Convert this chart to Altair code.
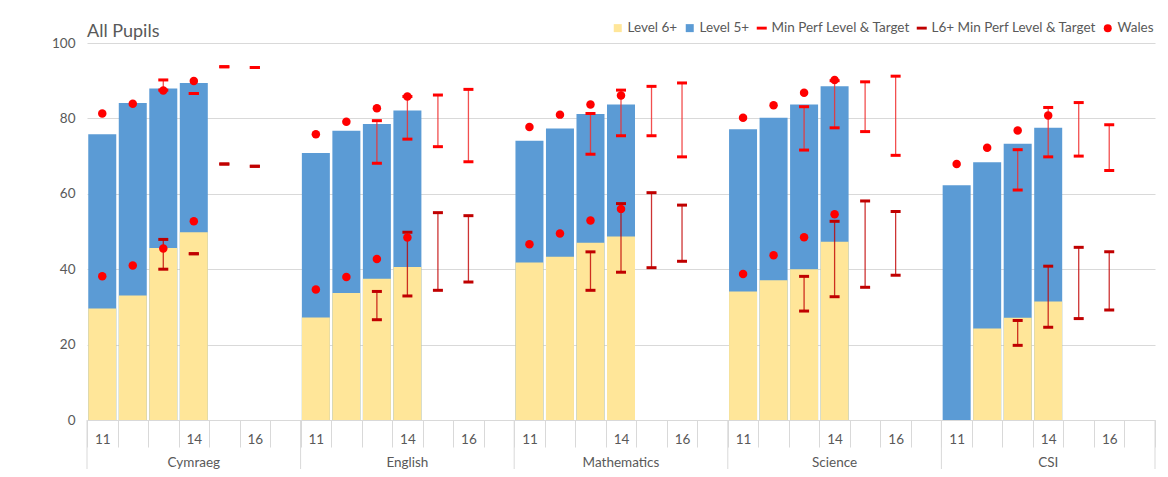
import altair as alt
import pandas as pd

subjects = ["Cymraeg", "English", "Mathematics", "Science", "CSI"]
years = ["11", "12", "13", "14", "15", "16", "17"]
bar_years = ["11", "12", "13", "14"]
target_years = ["13", "14", "15", "16"]
label_years = ["11", "14", "16"]

level5 = {
    "Cymraeg": [75.8, 84.1, 87.9, 89.4],
    "English": [70.8, 76.7, 78.5, 82.1],
    "Mathematics": [74.1, 77.3, 81.2, 83.7],
    "Science": [77.1, 80.2, 83.7, 88.5],
    "CSI": [62.3, 68.4, 73.3, 77.5],
}
level6 = {
    "Cymraeg": [29.6, 33.0, 45.6, 49.8],
    "English": [27.2, 33.7, 37.5, 40.6],
    "Mathematics": [41.8, 43.3, 47.0, 48.7],
    "Science": [34.1, 37.1, 40.0, 47.3],
    "CSI": [None, 24.3, 27.1, 31.4],
}
wales5 = {
    "Cymraeg": [81.3, 83.9, 87.4, 89.9],
    "English": [75.8, 79.1, 82.7, 85.8],
    "Mathematics": [77.7, 81.0, 83.7, 86.1],
    "Science": [80.2, 83.5, 86.8, 90.2],
    "CSI": [67.9, 72.2, 76.8, 80.8],
}
wales6 = {
    "Cymraeg": [38.1, 41.0, 45.5, 52.7],
    "English": [34.6, 37.9, 42.7, 48.4],
    "Mathematics": [46.6, 49.5, 52.9, 56.0],
    "Science": [38.7, 43.7, 48.5, 54.6],
    "CSI": [None, None, None, None],
}
mp_low = {
    "Cymraeg": [87.5, 86.6, 93.7, 93.5],
    "English": [68.1, 74.5, 72.5, 68.5],
    "Mathematics": [70.5, 75.4, 75.4, 69.8],
    "Science": [71.6, 77.5, 76.5, 70.2],
    "CSI": [61.0, 69.8, 70.0, 66.2],
}
mp_high = {
    "Cymraeg": [90.2, 86.6, 93.7, 93.5],
    "English": [79.4, 85.8, 86.2, 87.7],
    "Mathematics": [81.3, 87.5, 88.5, 89.4],
    "Science": [83.1, 90.0, 89.7, 91.2],
    "CSI": [71.7, 82.9, 84.2, 78.3],
}
l6_low = {
    "Cymraeg": [40.0, 44.1, 67.9, 67.3],
    "English": [26.6, 32.9, 34.4, 36.6],
    "Mathematics": [34.4, 39.2, 40.4, 42.1],
    "Science": [28.9, 32.7, 35.2, 38.4],
    "CSI": [19.8, 24.6, 26.9, 29.2],
}
l6_high = {
    "Cymraeg": [47.9, 44.1, 67.9, 67.3],
    "English": [34.1, 49.8, 55.0, 54.2],
    "Mathematics": [44.6, 57.4, 60.3, 57.0],
    "Science": [38.1, 52.7, 58.1, 55.3],
    "CSI": [26.4, 40.8, 45.8, 44.6],
}

series_names = ["Level 6+", "Level 5+", "Min Perf Level & Target",
                "L6+ Min Perf Level & Target", "Wales"]
series_colors = ["#FFE699", "#5B9BD5", "#FF0000", "#C00000", "#FF0000"]
dash = "M-1.25,-0.36L1.25,-0.36L1.25,0.36L-1.25,0.36Z"
series_shapes = ["square", "square", dash, dash, "circle"]

def k(s, y):
    return f"{s} {y}"

keys = [k(s, y) for s in subjects for y in years]

bar_rows, dot_rows, err_rows, cap_rows = [], [], [], []
for s in subjects:
    for i, y in enumerate(bar_years):
        bar_rows.append({"key": k(s, y), "series": "Level 5+", "value": level5[s][i]})
        if level6[s][i] is not None:
            bar_rows.append({"key": k(s, y), "series": "Level 6+", "value": level6[s][i]})
        dot_rows.append({"key": k(s, y), "series": "Wales", "value": wales5[s][i]})
        if wales6[s][i] is not None:
            dot_rows.append({"key": k(s, y), "series": "Wales", "value": wales6[s][i]})
    for i, y in enumerate(target_years):
        err_rows.append({"key": k(s, y), "kind": "mp", "low": mp_low[s][i], "high": mp_high[s][i]})
        err_rows.append({"key": k(s, y), "kind": "l6", "low": l6_low[s][i], "high": l6_high[s][i]})
        for v in (mp_low[s][i], mp_high[s][i]):
            cap_rows.append({"key": k(s, y), "kind": "mp", "value": v})
        for v in (l6_low[s][i], l6_high[s][i]):
            cap_rows.append({"key": k(s, y), "kind": "l6", "value": v})

bars = pd.DataFrame(bar_rows)
dots = pd.DataFrame(dot_rows)
errs = pd.DataFrame(err_rows)
caps = pd.DataFrame(cap_rows)
groups = pd.DataFrame({"subject": subjects,
                       "key": [k(s, years[0]) for s in subjects],
                       "mid": [k(s, "14") for s in subjects]})
last_group = pd.DataFrame({"key": [k(subjects[-1], years[-1])]})

W, H = 1068, 377
GREY = "#595959"
GRID = "#D9D9D9"

xscale = alt.Scale(domain=keys, paddingInner=0, paddingOuter=0)
xaxis = alt.Axis(
    title=None, labelAngle=0, domain=False, grid=False,
    tickBand="extent", tickSize=27, tickColor=GRID, tickWidth=1,
    labelPadding=-15, labelColor=GREY, labelFontSize=13.5,
    labelExpr="isString(datum.value) && indexof(" + str(label_years)
              + ", slice(datum.value, -2)) >= 0 ? slice(datum.value, -2) : ''",
)
yscale = alt.Scale(domain=[0, 100], nice=False)
yaxis = alt.Axis(values=[0, 20, 40, 60, 80, 100], title=None, domain=False, ticks=False,
                 labelPadding=12, labelColor=GREY, labelFontSize=13.5,
                 gridColor=GRID, gridWidth=1)

def X(field="key:N", **kw):
    return alt.X(field, scale=xscale, axis=xaxis, **kw)

color_scale = alt.Scale(domain=series_names, range=series_colors)
shape_scale = alt.Scale(domain=series_names, range=series_shapes)
legend = alt.Legend(
    title=None, orient="none", legendX=524, legendY=-22, direction="horizontal",
    columns=5, symbolSize=64, labelFontSize=13.5, labelColor=GREY,
    columnPadding=5, labelOffset=3, labelLimit=400,
)
color_enc = alt.Color("series:N", scale=color_scale, legend=legend)

bar5 = alt.Chart(bars).transform_filter("datum.series == 'Level 5+'").mark_bar(size=28).encode(
    x=X(), y=alt.Y("value:Q", scale=yscale, axis=yaxis, stack=None), color=color_enc)
bar6 = alt.Chart(bars).transform_filter("datum.series == 'Level 6+'").mark_bar(size=28).encode(
    x=X(), y=alt.Y("value:Q", scale=yscale, axis=yaxis, stack=None), color=color_enc)

err_mp = alt.Chart(errs).transform_filter("datum.kind == 'mp'").mark_rule(
    color="#F03030", strokeWidth=1.3, opacity=0.85).encode(
    x=X(), y=alt.Y("low:Q", scale=yscale, axis=yaxis), y2="high:Q")
err_l6 = alt.Chart(errs).transform_filter("datum.kind == 'l6'").mark_rule(
    color="#C00000", strokeWidth=1.3, opacity=0.8).encode(
    x=X(), y=alt.Y("low:Q", scale=yscale, axis=yaxis), y2="high:Q")

cap_mp = alt.Chart(caps).transform_filter("datum.kind == 'mp'").mark_tick(
    color="#FF0000", thickness=3, size=10, orient="horizontal", opacity=1).encode(
    x=X(), y=alt.Y("value:Q", scale=yscale, axis=yaxis))
cap_l6 = alt.Chart(caps).transform_filter("datum.kind == 'l6'").mark_tick(
    color="#C00000", thickness=3, size=10, orient="horizontal", opacity=1).encode(
    x=X(), y=alt.Y("value:Q", scale=yscale, axis=yaxis))

dot_layer = alt.Chart(dots).mark_point(filled=True, size=72, opacity=1).encode(
    x=X(),
    y=alt.Y("value:Q", scale=yscale, axis=yaxis),
    color=color_enc,
    shape=alt.Shape("series:N", scale=shape_scale, legend=legend),
)

sep_layer = alt.Chart(groups).mark_rule(color=GRID, strokeWidth=1).encode(
    x=X(bandPosition=0), y=alt.value(H), y2=alt.value(H + 60))
sep_end = alt.Chart(last_group).mark_rule(color=GRID, strokeWidth=1).encode(
    x=X(bandPosition=1), y=alt.value(H), y2=alt.value(H + 60))
group_text = alt.Chart(groups).mark_text(fontSize=13.5, color=GREY, baseline="middle").encode(
    x=X("mid:N"), y=alt.value(H + 43), text="subject:N")

chart = alt.layer(
    bar5, bar6, err_mp, err_l6, cap_mp, cap_l6, dot_layer, sep_layer, sep_end, group_text
).properties(
    width=W, height=H,
    autosize=alt.AutoSizeParams(type="none"),
    padding={"left": 79, "top": 35, "right": 5, "bottom": 49},
    title=alt.Title("All Pupils", anchor="start", frame="group", fontSize=18,
                    fontWeight="normal", color=GREY, offset=7, dy=27),
).configure(font="Lato").configure_view(stroke=None)

chart.save("out.html", embed_options={"renderer": "svg", "actions": False})
